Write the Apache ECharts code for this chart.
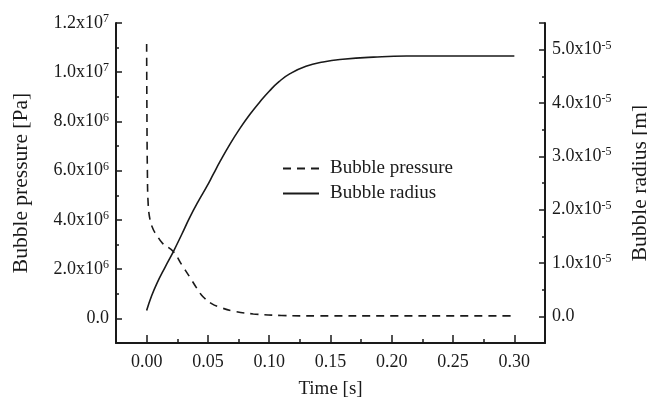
<!DOCTYPE html>
<html><head><meta charset="utf-8">
<script src="https://cdn.jsdelivr.net/npm/echarts@6/dist/echarts.min.js"></script>
<style>html,body{margin:0;padding:0;background:#fff}#c{width:647px;height:399px}</style>
</head><body><div id="c"></div>
<script>
// ---- data ----
const timePressure = [0, 0.0002, 0.0006, 0.0013, 0.003, 0.0055, 0.0082, 0.013, 0.0217, 0.029, 0.0353, 0.041, 0.046, 0.053, 0.06, 0.07, 0.087, 0.11, 0.14, 0.2, 0.25, 0.3];
const pressure = [11.15e6, 8.6e6, 6.0e6, 4.6e6, 3.95e6, 3.6e6, 3.38e6, 3.05e6, 2.72e6, 2.15e6, 1.67e6, 1.22e6, 0.88e6, 0.6e6, 0.45e6, 0.3e6, 0.18e6, 0.12e6, 0.1e6, 0.1e6, 0.1e6, 0.1e6];
const timeRadius = [0, 0.004, 0.0082, 0.015, 0.0217, 0.0285, 0.0353, 0.042, 0.049, 0.0545, 0.0598, 0.068, 0.076, 0.084, 0.092, 0.1, 0.108, 0.117, 0.13, 0.144, 0.16, 0.185, 0.212, 0.25, 0.3];
const radius = [0.11e-5, 0.38e-5, 0.61e-5, 0.92e-5, 1.21e-5, 1.53e-5, 1.86e-5, 2.15e-5, 2.43e-5, 2.67e-5, 2.9e-5, 3.23e-5, 3.52e-5, 3.78e-5, 4.01e-5, 4.22e-5, 4.4e-5, 4.55e-5, 4.69e-5, 4.77e-5, 4.82e-5, 4.86e-5, 4.88e-5, 4.88e-5, 4.88e-5];

const xTickValues = [0, 0.05, 0.1, 0.15, 0.2, 0.25, 0.3];
const xTickLabels = ['0.00', '0.05', '0.10', '0.15', '0.20', '0.25', '0.30'];
const leftTickValues = [0, 2e6, 4e6, 6e6, 8e6, 1e7, 1.2e7];
const leftTickLabels = ['0.0', '2.0x10^6', '4.0x10^6', '6.0x10^6', '8.0x10^6', '1.0x10^7', '1.2x10^7'];
const rightTickValues = [0, 1e-5, 2e-5, 3e-5, 4e-5, 5e-5];
const rightTickLabels = ['0.0', '1.0x10^-5', '2.0x10^-5', '3.0x10^-5', '4.0x10^-5', '5.0x10^-5'];

const seriesNames = ['Bubble pressure', 'Bubble radius'];
const xName = 'Time [s]';
const leftName = 'Bubble pressure [Pa]';
const rightName = 'Bubble radius [m]';

// ---- styling ----
const FONT = "'Liberation Serif', 'DejaVu Serif', serif";
const INK = '#1a1a1a';

function makeFormatter(vals, labels, tol) {
  return function (v) {
    for (let i = 0; i < vals.length; i++) {
      if (Math.abs(v - vals[i]) < tol) {
        const parts = labels[i].split('^');
        if (parts.length === 1) return '{m|' + parts[0] + '}';
        return '{m|' + parts[0] + '}{s|' + parts[1] + '}';
      }
    }
    return '';
  };
}
const rich = {
  m: { fontSize: 18, fontFamily: FONT, color: INK, lineHeight: 20 },
  s: { fontSize: 12, fontFamily: FONT, color: INK, verticalAlign: 'top', lineHeight: 12 }
};

const chart = echarts.init(document.getElementById('c'), null, { renderer: 'canvas' });
const noLine = { show: false, onZero: false };
chart.setOption({
  animation: false,
  backgroundColor: '#fff',
  textStyle: { fontFamily: FONT, color: INK },
  grid: { left: 116, right: 102, top: 23, bottom: 56, outerBoundsMode: 'none', containLabel: false },
  legend: {
    orient: 'vertical', left: 277, top: 154,
    itemWidth: 36, itemHeight: 14, itemGap: 6,
    itemStyle: { opacity: 0, borderWidth: 0 },
    textStyle: { fontFamily: FONT, fontSize: 19, color: INK, padding: [0, 0, 0, 6] },
    data: seriesNames
  },
  xAxis: [
    {
      type: 'value', position: 'bottom', min: -0.025, max: 0.325, interval: 0.025,
      name: xName, nameLocation: 'middle', nameGap: 37,
      nameTextStyle: { fontFamily: FONT, fontSize: 19, color: INK },
      axisLine: { show: true, onZero: false, lineStyle: { color: INK, width: 2 } },
      axisTick: { show: true, inside: true, length: 4, lineStyle: { color: INK, width: 1.5 } },
      axisLabel: { show: true, margin: 9, formatter: makeFormatter(xTickValues, xTickLabels, 1e-6), rich: rich },
      splitLine: { show: false }
    },
    {
      type: 'value', position: 'bottom', min: -0.025, max: 0.325, splitNumber: 7,
      axisLine: noLine,
      axisTick: { show: true, inside: true, length: 8, lineStyle: { color: INK, width: 1.5 } },
      axisLabel: { show: false }, splitLine: { show: false }
    }
  ],
  yAxis: [
    {
      type: 'value', position: 'left', min: -1e6, max: 1.2e7, interval: 1e6,
      name: leftName, nameLocation: 'middle', nameGap: 84, nameRotate: 90,
      nameTextStyle: { fontFamily: FONT, fontSize: 21.5, color: INK },
      axisLine: { show: true, onZero: false, lineStyle: { color: INK, width: 2 } },
      axisTick: { show: true, inside: true, length: 3, lineStyle: { color: INK, width: 1.5 } },
      axisLabel: { show: true, margin: 7, formatter: makeFormatter(leftTickValues, leftTickLabels, 1), rich: rich },
      splitLine: { show: false }
    },
    {
      type: 'value', position: 'left', min: -1e6, max: 1.2e7, splitNumber: 6,
      axisLine: noLine,
      axisTick: { show: true, inside: true, length: 6, lineStyle: { color: INK, width: 1.5 } },
      axisLabel: { show: false }, splitLine: { show: false }
    },
    {
      type: 'value', position: 'right', min: -0.5e-5, max: 5.5e-5, interval: 0.5e-5,
      name: rightName, nameLocation: 'middle', nameGap: 84, nameRotate: 90,
      nameTextStyle: { fontFamily: FONT, fontSize: 21.5, color: INK },
      axisLine: { show: true, onZero: false, lineStyle: { color: INK, width: 2 } },
      axisTick: { show: true, inside: true, length: 3, lineStyle: { color: INK, width: 1.5 } },
      axisLabel: { show: true, margin: 7, formatter: makeFormatter(rightTickValues, rightTickLabels, 1e-12), rich: rich },
      splitLine: { show: false }
    },
    {
      type: 'value', position: 'right', min: -0.5e-5, max: 5.5e-5, splitNumber: 6,
      axisLine: noLine,
      axisTick: { show: true, inside: true, length: 6, lineStyle: { color: INK, width: 1.5 } },
      axisLabel: { show: false }, splitLine: { show: false }
    }
  ],
  series: [
    {
      name: seriesNames[0], type: 'line', xAxisIndex: 0, yAxisIndex: 0,
      data: timePressure.map((t, i) => [t, pressure[i]]),
      smooth: 0.4, symbol: 'none',
      lineStyle: { color: INK, width: 1.6, type: [8, 6] },
      itemStyle: { color: INK }
    },
    {
      name: seriesNames[1], type: 'line', xAxisIndex: 0, yAxisIndex: 2,
      data: timeRadius.map((t, i) => [t, radius[i]]),
      smooth: 0.5, symbol: 'none',
      lineStyle: { color: INK, width: 1.6, type: 'solid' },
      itemStyle: { color: INK }
    }
  ]
});
</script>
</body></html>
